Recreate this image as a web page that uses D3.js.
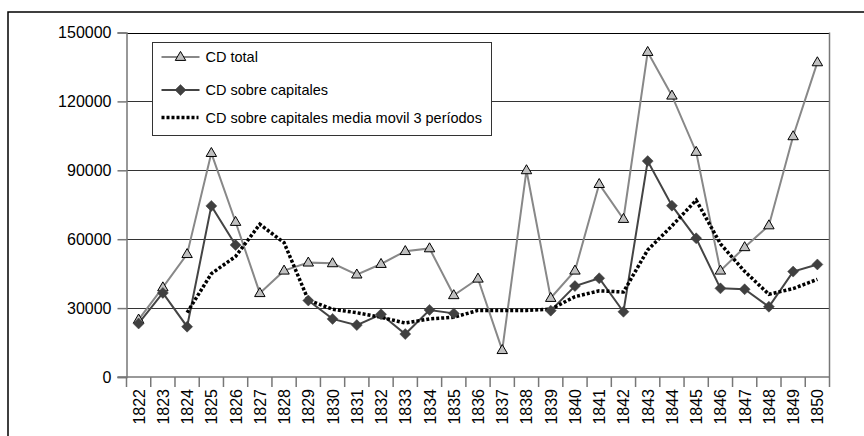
<!DOCTYPE html>
<html>
<head>
<meta charset="utf-8">
<script src="https://cdn.jsdelivr.net/npm/d3@7"></script>
<style>
  html, body { margin: 0; padding: 0; background: #fff; }
  svg { display: block; font-family: "Liberation Sans", Arial, sans-serif; }
</style>
</head>
<body>
<svg id="chart" width="864" height="436"></svg>
<script>
// Years on the category axis
const years = [1822, 1823, 1824, 1825, 1826, 1827, 1828, 1829, 1830, 1831,
               1832, 1833, 1834, 1835, 1836, 1837, 1838, 1839, 1840, 1841,
               1842, 1843, 1844, 1845, 1846, 1847, 1848, 1849, 1850];

// CD total
const cdTotal = [25000, 39000, 53500, 97500, 67500, 36500, 46300, 49800, 49500, 44600,
                 49200, 54800, 56000, 35600, 42800, 11700, 90000, 34400, 46300, 84000,
                 68800, 141500, 122500, 98000, 46300, 56500, 66000, 104800, 137000];

// CD sobre capitales (null = no data for that year)
const cdCapitales = [23300, 36600, 21900, 74500, 57500, null, null, 33300, 25300, 22600,
                     27300, 18700, 29200, 27700, null, null, null, 28900, 39600, 43000,
                     28400, 94000, 74600, 60400, 38600, 38200, 30600, 45900, 49000];

// CD sobre capitales, media movil 3 periodos
const cdMedia = [null, null, 28000, 45000, 52500, 66500, 58500, 33500, 29500, 28000,
                 26000, 23500, 25300, 26000, 29000, 29000, 29000, 29500, 35000, 37500,
                 37000, 55300, 65800, 77000, 58000, 46000, 36000, 38500, 42500];

// Value axis ticks
const yTicks = [0, 30000, 60000, 90000, 120000, 150000];

const seriesNames = ["CD total", "CD sobre capitales", "CD sobre capitales media movil 3 períodos"];

const svg = d3.select("#chart");

// outer chart frame
svg.append("rect")
  .attr("x", 8).attr("y", 12)
  .attr("width", 900).attr("height", 500)
  .attr("fill", "none").attr("stroke", "#000").attr("stroke-width", 1.5);

const plot = { left: 126.5, right: 829.5, top: 32.5, bottom: 377 };

const x = d3.scaleBand().domain(years).range([plot.left, plot.right]).padding(0);
const y = d3.scaleLinear().domain([0, 150000]).range([plot.bottom, plot.top]);
const cx = d => x(d) + x.bandwidth() / 2;

// horizontal gridlines
svg.append("g")
  .selectAll("line")
  .data(yTicks.filter(t => t > 0))
  .join("line")
  .attr("x1", plot.left).attr("x2", plot.right)
  .attr("y1", d => Math.round(y(d)) + 0.5).attr("y2", d => Math.round(y(d)) + 0.5)
  .attr("stroke", d => d === 150000 ? "#000" : "#333")
  .attr("stroke-width", 1.2);

// right edge of plot area
svg.append("line")
  .attr("x1", plot.right).attr("x2", plot.right)
  .attr("y1", plot.top).attr("y2", plot.bottom)
  .attr("stroke", "#777").attr("stroke-width", 1.5);

// value axis
const yAxis = svg.append("g")
  .attr("transform", `translate(${plot.left},0)`)
  .call(d3.axisLeft(y).tickValues(yTicks).tickSize(9).tickPadding(6).tickFormat(d3.format("d")));
yAxis.select(".domain").attr("stroke", "#777").attr("stroke-width", 1.5);
yAxis.selectAll(".tick line").attr("stroke", "#777").attr("stroke-width", 1.5);
yAxis.selectAll(".tick text")
  .attr("font-size", 16).attr("fill", "#000")
  .attr("font-family", "Liberation Sans, Arial, sans-serif");

// category axis: ticks sit between categories
const xAxisG = svg.append("g");
xAxisG.append("line")
  .attr("x1", plot.left - 9).attr("x2", plot.right)
  .attr("y1", plot.bottom).attr("y2", plot.bottom)
  .attr("stroke", "#777").attr("stroke-width", 1.5);
xAxisG.selectAll("line.tk")
  .data(years.concat([null]))
  .join("line")
  .attr("class", "tk")
  .attr("x1", (d, i) => plot.left + i * x.bandwidth())
  .attr("x2", (d, i) => plot.left + i * x.bandwidth())
  .attr("y1", plot.bottom).attr("y2", plot.bottom + 10)
  .attr("stroke", "#777").attr("stroke-width", 1.5);
xAxisG.selectAll("text")
  .data(years)
  .join("text")
  .attr("transform", d => `translate(${cx(d) + 6},${plot.bottom + 12}) rotate(-90)`)
  .attr("text-anchor", "end")
  .attr("font-size", 16).attr("fill", "#000")
  .text(d => d);

// series drawing helpers
const line = d3.line()
  .defined(d => d.v !== null)
  .x(d => cx(d.year))
  .y(d => y(d.v));

const pts = arr => years.map((yr, i) => ({ year: yr, v: arr[i] }));

const triPath = s => `M0,${-s * 0.62}L${s * 0.58},${s * 0.38}L${-s * 0.58},${s * 0.38}Z`;
const diaPath = s => `M0,${-s}L${s},0L0,${s}L${-s},0Z`;

// CD total
svg.append("path")
  .datum(pts(cdTotal))
  .attr("d", line)
  .attr("fill", "none").attr("stroke", "#888").attr("stroke-width", 2);

// CD sobre capitales
svg.append("path")
  .datum(pts(cdCapitales))
  .attr("d", line)
  .attr("fill", "none").attr("stroke", "#444").attr("stroke-width", 2);

// moving average
svg.append("path")
  .datum(pts(cdMedia))
  .attr("d", line)
  .attr("fill", "none").attr("stroke", "#000").attr("stroke-width", 3.5)
  .attr("stroke-dasharray", "3 2");

// markers
svg.append("g")
  .selectAll("path")
  .data(pts(cdTotal))
  .join("path")
  .attr("transform", d => `translate(${cx(d.year)},${y(d.v)})`)
  .attr("d", triPath(9))
  .attr("fill", "#c0c0c0").attr("stroke", "#000").attr("stroke-width", 1);

svg.append("g")
  .selectAll("path")
  .data(pts(cdCapitales).filter(d => d.v !== null))
  .join("path")
  .attr("transform", d => `translate(${cx(d.year)},${y(d.v)})`)
  .attr("d", diaPath(5.5))
  .attr("fill", "#404040").attr("stroke", "#404040").attr("stroke-width", 0.5);

// legend
const lg = svg.append("g").attr("transform", "translate(152.5,42.5)");
lg.append("rect")
  .attr("width", 339).attr("height", 93)
  .attr("fill", "#fff").attr("stroke", "#333").attr("stroke-width", 1);

const rowsY = [14.5, 47.5, 75];
seriesNames.forEach((name, i) => {
  const g = lg.append("g").attr("transform", `translate(0,${rowsY[i]})`);
  const ln = g.append("line").attr("x1", 9).attr("x2", 47).attr("y1", 0).attr("y2", 0);
  if (i === 0) {
    ln.attr("stroke", "#888").attr("stroke-width", 2);
    g.append("path").attr("transform", "translate(28,0)").attr("d", triPath(9))
      .attr("fill", "#c0c0c0").attr("stroke", "#000").attr("stroke-width", 1);
  } else if (i === 1) {
    ln.attr("stroke", "#444").attr("stroke-width", 2);
    g.append("path").attr("transform", "translate(28,0)").attr("d", diaPath(5.5))
      .attr("fill", "#404040").attr("stroke", "#404040").attr("stroke-width", 0.5);
  } else {
    ln.attr("x1", 9).attr("x2", 46).attr("stroke", "#000").attr("stroke-width", 3.5)
      .attr("stroke-dasharray", "3 2");
  }
  g.append("text")
    .attr("x", 53).attr("y", 5)
    .attr("font-size", 14.5).attr("fill", "#000")
    .text(name);
});
</script>
</body>
</html>
